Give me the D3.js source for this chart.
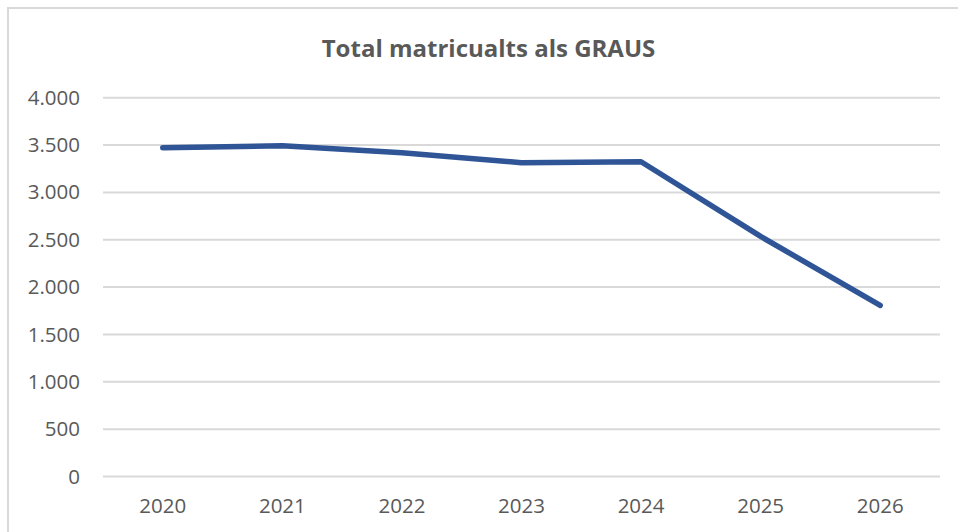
<!DOCTYPE html>
<html>
<head>
<meta charset="utf-8">
<script src="https://cdn.jsdelivr.net/npm/d3@7"></script>
<style>
  body { margin: 0; background: #fff; }
  text { font-family: "Open Sans", sans-serif; fill: #595959; }
</style>
</head>
<body>
<div id="chart"></div>
<script>
// chart data
var years = ["2020", "2021", "2022", "2023", "2024", "2025", "2026"];
var enrolled = [3472, 3493, 3419, 3314, 3324, 2535, 1806];
var yTicks = [0, 500, 1000, 1500, 2000, 2500, 3000, 3500, 4000];
var chartTitle = "Total matricualts als GRAUS";

var svgWidth = 958;
var svgHeight = 532;

var margin = { top: 97.7, right: 18, bottom: 55.5, left: 103 };
var chartWidth = svgWidth - margin.left - margin.right;
var chartHeight = svgHeight - margin.top - margin.bottom;

var svg = d3.select("#chart")
  .append("svg")
  .attr("width", svgWidth)
  .attr("height", svgHeight);

// outer frame
svg.append("rect")
  .attr("x", 8)
  .attr("y", 8)
  .attr("width", svgWidth)
  .attr("height", svgHeight)
  .attr("fill", "none")
  .attr("stroke", "#d9d9d9")
  .attr("stroke-width", 2);

// title
svg.append("text")
  .attr("x", 488.5)
  .attr("y", 57)
  .attr("text-anchor", "middle")
  .style("font-size", "24px")
  .style("font-weight", 700)
  .text(chartTitle);

var chartGroup = svg.append("g")
  .attr("transform", `translate(${margin.left}, ${margin.top})`);

var xScale = d3.scaleBand()
  .domain(years)
  .range([0, chartWidth]);

var yScale = d3.scaleLinear()
  .domain([0, 4000])
  .range([chartHeight, 0]);

// gridlines
chartGroup.selectAll(".grid")
  .data(yTicks)
  .enter()
  .append("line")
  .attr("x1", 0)
  .attr("x2", chartWidth)
  .attr("y1", d => yScale(d))
  .attr("y2", d => yScale(d))
  .attr("stroke", "#d9d9d9")
  .attr("stroke-width", 2);

// y axis labels
var fmt = d3.formatLocale({ decimal: ",", thousands: ".", grouping: [3], currency: ["", "€"] }).format(",");
var leftAxis = d3.axisLeft(yScale)
  .tickValues(yTicks)
  .tickFormat(fmt)
  .tickSize(0)
  .tickPadding(23);

chartGroup.append("g")
  .call(leftAxis)
  .call(g => g.select(".domain").remove())
  .selectAll("text")
  .style("font-size", "20.5px")
  .attr("fill", "#595959");

// x axis labels
var bottomAxis = d3.axisBottom(xScale)
  .tickSize(0)
  .tickPadding(22);

chartGroup.append("g")
  .attr("transform", `translate(0, ${chartHeight})`)
  .call(bottomAxis)
  .call(g => g.select(".domain").remove())
  .selectAll("text")
  .style("font-size", "20.5px")
  .attr("fill", "#595959");

// line
var line = d3.line()
  .x((d, i) => xScale(years[i]) + xScale.bandwidth() / 2)
  .y(d => yScale(d));

chartGroup.append("path")
  .datum(enrolled)
  .attr("d", line)
  .attr("fill", "none")
  .attr("stroke", "#2f5597")
  .attr("stroke-width", 5.5)
  .attr("stroke-linejoin", "round")
  .attr("stroke-linecap", "round");
</script>
</body>
</html>
